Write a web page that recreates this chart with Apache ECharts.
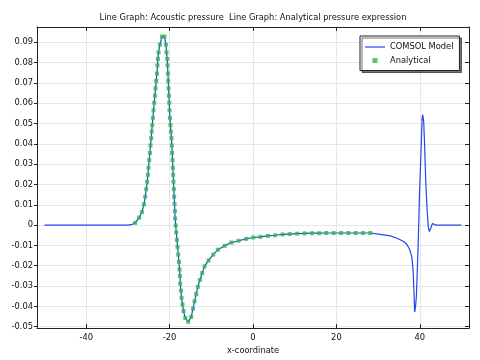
<!DOCTYPE html>
<html>
<head>
<meta charset="utf-8">
<script src="https://cdn.jsdelivr.net/npm/echarts@6/dist/echarts.min.js"></script>
<style>html,body{margin:0;padding:0;background:#fff}#c{width:480px;height:360px}</style>
</head>
<body>
<div id="c"></div>
<script>
// ---- data ----
const titleText = 'Line Graph: Acoustic pressure  Line Graph: Analytical pressure expression';
const xTicks = [-40, -20, 0, 20, 40];
const yTicks = [-0.05, -0.04, -0.03, -0.02, -0.01, 0, 0.01, 0.02, 0.03, 0.04, 0.05, 0.06, 0.07, 0.08, 0.09];

const analyticalX = [-28.25,-27.29,-26.64,-26.16,-25.85,-25.61,-25.37,-25.20,-25.06,-24.89,-24.72,-24.58,-24.41,-24.29,-24.17,-24.00,-23.86,-23.69,-23.52,-23.38,-23.21,-23.04,-22.90,-22.80,-22.66,-22.32,-21.84,-21.22,
 -20.88,-20.74,-20.57,-20.50,-20.40,-20.33,-20.26,-20.16,-20.09,-20.02,-19.92,-19.80,-19.70,-19.56,-19.46,-19.39,-19.30,-19.22,-19.15,-19.06,-18.98,-18.91,-18.82,-18.74,-18.67,-18.53,-18.41,-18.24,-18.10,-17.93,-17.76,-17.62,-17.52,-17.45,-17.28,-17.14,-16.90,-16.66,-16.25,-15.53,
 -14.81,-14.40,-14.02,-13.61,-13.22,-12.74,-12.17,-11.62,-10.66,-9.53,-8.42,-6.77,-5.21,-3.46,-1.63,0.07,1.75,3.55,5.30,7.10,8.78,10.58,12.36,14.16,15.86,17.59,19.34,21.12,22.87,24.62,26.38,28.13];
const analyticalY = [0.0011,0.0037,0.0064,0.0102,0.0140,0.0177,0.0213,0.0247,0.0282,0.0320,0.0355,0.0392,0.0428,0.0461,0.0492,0.0528,0.0565,0.0602,0.0637,0.0673,0.0710,0.0746,0.0786,0.0818,0.0850,0.0888,0.0928,0.0928,
 0.0888,0.0850,0.0818,0.0786,0.0746,0.0710,0.0673,0.0637,0.0602,0.0565,0.0528,0.0492,0.0460,0.0428,0.0392,0.0355,0.0320,0.0282,0.0247,0.0213,0.0177,0.0140,0.0105,0.0069,0.0032,-0.0002,-0.0036,-0.0073,-0.0108,-0.0145,-0.0181,-0.0218,-0.0250,-0.0288,-0.0323,-0.0358,-0.0391,-0.0423,-0.0457,-0.0476,
 -0.0452,-0.0412,-0.0375,-0.0339,-0.0304,-0.0270,-0.0236,-0.0203,-0.0174,-0.0145,-0.0121,-0.0102,-0.0086,-0.0077,-0.0068,-0.0061,-0.0058,-0.0053,-0.0050,-0.0046,-0.0044,-0.0042,-0.0041,-0.0040,-0.0040,-0.0039,-0.0039,-0.0039,-0.0039,-0.0039,-0.0039,-0.0039];

const comsolHeadX = [-50, -30, -29.2];
const comsolHeadY = [0, 0, 0.0002];
const comsolTailX = [30.55,32.95,34.56,36.14,36.96,37.58,38.06,38.20,38.30,38.40,38.59,38.78,39.00,39.19,39.60,39.91,40.32,40.56,40.70,40.94,41.18,41.42,41.76,42.07,42.31,42.62,43.03,43.44,43.92,50];
const comsolTailY = [-0.0046,-0.0053,-0.0065,-0.0081,-0.0097,-0.0121,-0.0154,-0.0180,-0.0185,-0.0226,-0.0323,-0.0428,-0.0396,-0.0347,-0.0105,0.0137,0.0379,0.0524,0.0544,0.0508,0.0379,0.0218,0.0073,-0.0016,-0.0032,-0.0016,0.0008,0.0003,0,0];

// ---- build series data ----
const comsolX = comsolHeadX.concat(analyticalX, comsolTailX);
const comsolY = comsolHeadY.concat(analyticalY, comsolTailY);
const comsolData = comsolX.map((x, i) => [x, comsolY[i]]);
const analyticalData = analyticalX.map((x, i) => [x, analyticalY[i]]);

const FONT = 'DejaVu Sans';
const FS = 8.3;
const TXT = '#111';
const chart = echarts.init(document.getElementById('c'), null, {renderer: 'canvas'});
const xCommon = {type: 'value', min: -51.8, max: 51.8};
const yCommon = {type: 'value', min: -0.0507, max: 0.0975};
const fmt = v => String(Math.round(v * 100) / 100);

chart.setOption({
  animation: false,
  backgroundColor: '#fff',
  textStyle: {fontFamily: FONT},
  title: {
    text: titleText, left: 253, top: 14, textAlign: 'center', padding: 0,
    textStyle: {fontFamily: FONT, fontSize: FS, fontWeight: 'normal', color: TXT}
  },
  legend: {
    orient: 'vertical', left: 360, top: 36,
    padding: [6, 6, 5, 5], itemGap: 3.5, itemWidth: 20, itemHeight: 5, itemTextGap: 5,
    backgroundColor: '#fff', borderColor: '#222', borderWidth: 1, borderRadius: 0,
    shadowColor: 'rgba(0,0,0,0.55)', shadowOffsetX: 2, shadowOffsetY: 2, shadowBlur: 0,
    textStyle: {fontFamily: FONT, fontSize: FS, color: TXT, lineHeight: 10},
    data: [
      {name: 'COMSOL Model', icon: 'path://M0 0H20V1.2H0Z'},
      {name: 'Analytical', icon: 'path://M0 0H10V10H0Z'}
    ]
  },
  grid: {left: 37, right: 11, top: 27, bottom: 27, containLabel: false},
  xAxis: [
    Object.assign({}, xCommon, {
      position: 'bottom',
      name: 'x-coordinate', nameLocation: 'middle', nameGap: 15,
      nameTextStyle: {fontFamily: FONT, fontSize: FS, color: TXT},
      axisLine: {show: true, onZero: false, lineStyle: {color: '#222', width: 1}},
      axisTick: {show: true, inside: true, length: 4, customValues: xTicks, lineStyle: {color: '#222'}},
      axisLabel: {show: true, customValues: xTicks, margin: 6, fontFamily: FONT, fontSize: FS, color: TXT, formatter: fmt},
      splitLine: {show: true, lineStyle: {color: '#e6e6e6', width: 1}}
    }),
    Object.assign({}, xCommon, {
      position: 'top',
      axisLine: {show: true, onZero: false, lineStyle: {color: '#222', width: 1}},
      axisTick: {show: true, inside: true, length: 4, customValues: xTicks, lineStyle: {color: '#222'}},
      axisLabel: {show: false},
      splitLine: {show: false}
    })
  ],
  yAxis: [
    Object.assign({}, yCommon, {
      position: 'left',
      axisLine: {show: true, onZero: false, lineStyle: {color: '#222', width: 1}},
      axisTick: {show: true, inside: false, length: 3, customValues: yTicks, lineStyle: {color: '#222'}},
      axisLabel: {show: true, customValues: yTicks, margin: 4, fontFamily: FONT, fontSize: FS, color: TXT, formatter: fmt},
      splitLine: {show: true, lineStyle: {color: '#e6e6e6', width: 1}}
    }),
    Object.assign({}, yCommon, {
      position: 'right',
      axisLine: {show: true, onZero: false, lineStyle: {color: '#222', width: 1}},
      axisTick: {show: true, inside: true, length: 4, customValues: yTicks, lineStyle: {color: '#222'}},
      axisLabel: {show: false},
      splitLine: {show: false}
    })
  ],
  series: [
    {
      name: 'COMSOL Model', type: 'line', xAxisIndex: 0, yAxisIndex: 0,
      data: comsolData, symbol: 'none', showSymbol: false, smooth: false,
      lineStyle: {color: '#2346f0', width: 1.2},
      itemStyle: {color: '#2346f0'}, z: 2
    },
    {
      name: 'Analytical', type: 'scatter', xAxisIndex: 0, yAxisIndex: 0,
      data: analyticalData, symbol: 'rect', symbolSize: 4,
      itemStyle: {color: '#2db64a'}, z: 3
    }
  ]
});
</script>
</body>
</html>
